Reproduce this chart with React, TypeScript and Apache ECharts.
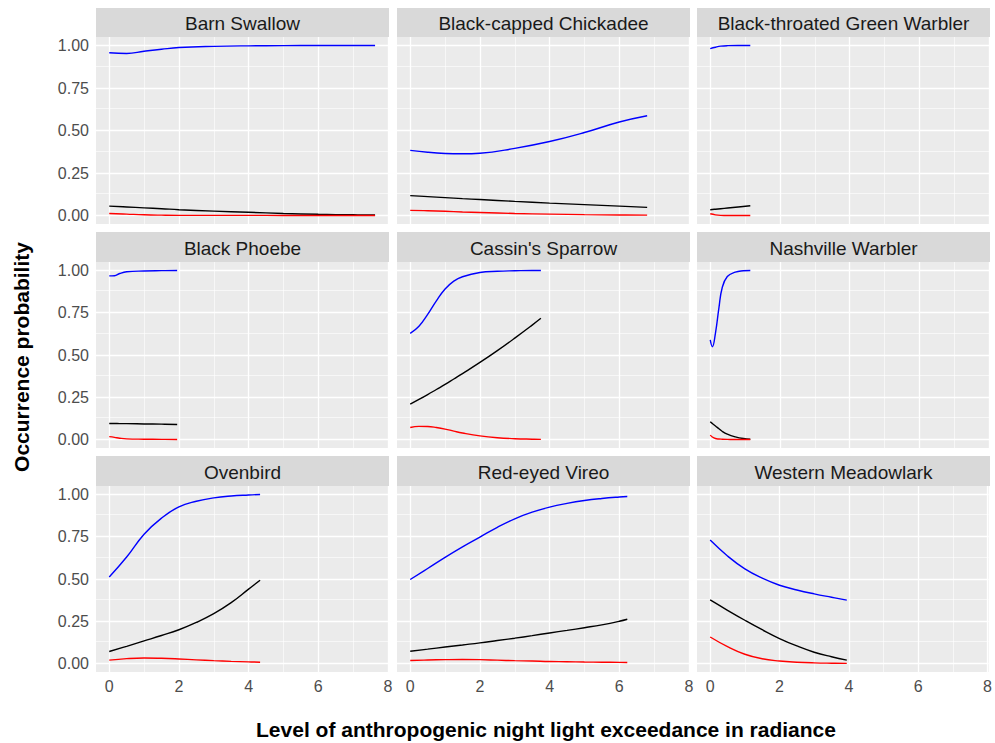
import React, { useEffect, useRef } from "react";
import * as echarts from "echarts";

// ---- facet titles ----
const speciesNames = [
  "Barn Swallow",
  "Black-capped Chickadee",
  "Black-throated Green Warbler",
  "Black Phoebe",
  "Cassin's Sparrow",
  "Nashville Warbler",
  "Ovenbird",
  "Red-eyed Vireo",
  "Western Meadowlark",
];

// ---- ticks ----
const xMajor = [0, 2, 4, 6, 8];
const xMinor = [1, 3, 5, 7];
const yMajor = [0, 0.25, 0.5, 0.75, 1];
const yMinor = [0.125, 0.375, 0.625, 0.875];

// ---- data (x = night light exceedance, blue / black / red curves) ----
const barnSwallowX = [0, 0.5, 1, 1.5, 2, 3, 4, 5, 6, 7, 7.63];
const barnSwallowBlue = [0.957, 0.953, 0.966, 0.978, 0.988, 0.995, 0.998, 0.999, 1.0, 1.0, 1.0];
const barnSwallowBlack = [0.055, 0.05, 0.045, 0.04, 0.034, 0.026, 0.019, 0.012, 0.007, 0.004, 0.003];
const barnSwallowRed = [0.012, 0.008, 0.004, 0.002, 0.001, 0.001, 0.001, 0.0, 0.0, 0.0, 0.0];

const chickadeeX = [0, 0.5, 1, 1.5, 2, 3, 4, 5, 6, 6.8];
const chickadeeBlue = [0.383, 0.372, 0.365, 0.363, 0.366, 0.395, 0.435, 0.488, 0.55, 0.587];
const chickadeeBlack = [0.117, 0.111, 0.105, 0.099, 0.094, 0.083, 0.073, 0.064, 0.055, 0.048];
const chickadeeRed = [0.03, 0.028, 0.025, 0.021, 0.018, 0.012, 0.008, 0.005, 0.003, 0.002];

const btgWarblerX = [0, 0.15, 0.3, 0.5, 0.8, 1.15];
const btgWarblerBlue = [0.982, 0.99, 0.996, 0.999, 1.0, 1.0];
const btgWarblerBlack = [0.034, 0.037, 0.04, 0.044, 0.05, 0.057];
const btgWarblerRed = [0.01, 0.004, 0.001, 0.0, 0.0, 0.0];

const phoebeX = [0, 0.15, 0.3, 0.5, 1, 1.5, 1.95];
const phoebeBlue = [0.968, 0.969, 0.982, 0.992, 0.997, 0.999, 1.0];
const phoebeBlack = [0.095, 0.095, 0.094, 0.094, 0.092, 0.091, 0.089];
const phoebeRed = [0.017, 0.013, 0.008, 0.004, 0.002, 0.001, 0.0];

const cassinX = [0, 0.25, 0.5, 0.75, 1, 1.25, 1.5, 2, 2.5, 3, 3.5, 3.75];
const cassinBlue = [0.628, 0.67, 0.74, 0.82, 0.89, 0.937, 0.963, 0.988, 0.995, 0.998, 1.0, 1.0];
const cassinBlack = [0.209, 0.237, 0.266, 0.296, 0.326, 0.358, 0.39, 0.456, 0.526, 0.6, 0.677, 0.717];
const cassinRed = [0.071, 0.078, 0.077, 0.071, 0.062, 0.05, 0.039, 0.022, 0.011, 0.005, 0.002, 0.001];

const nashvilleX = [0, 0.06, 0.15, 0.25, 0.34, 0.49, 0.72, 0.95, 1.15];
const nashvilleBlue = [0.589, 0.549, 0.63, 0.78, 0.895, 0.964, 0.99, 0.998, 1.0];
const nashvilleBlack = [0.105, 0.095, 0.08, 0.064, 0.049, 0.032, 0.016, 0.006, 0.002];
const nashvilleRed = [0.026, 0.015, 0.006, 0.003, 0.002, 0.001, 0.0, 0.0, 0.0];

const ovenbirdX = [0, 0.5, 1, 1.5, 2, 2.5, 3, 3.5, 4, 4.33];
const ovenbirdBlue = [0.512, 0.63, 0.765, 0.86, 0.927, 0.96, 0.98, 0.991, 0.997, 1.0];
const ovenbirdBlack = [0.071, 0.102, 0.134, 0.166, 0.2, 0.243, 0.295, 0.36, 0.44, 0.493];
const ovenbirdRed = [0.02, 0.029, 0.033, 0.031, 0.027, 0.022, 0.017, 0.013, 0.01, 0.008];

const vireoX = [0, 0.5, 1, 1.5, 2, 2.5, 3, 3.5, 4, 4.5, 5, 5.5, 6, 6.23];
const vireoBlue = [0.497, 0.562, 0.628, 0.69, 0.748, 0.806, 0.856, 0.895, 0.925, 0.947, 0.964, 0.976, 0.985, 0.988];
const vireoBlack = [0.073, 0.085, 0.098, 0.11, 0.122, 0.136, 0.15, 0.165, 0.181, 0.196, 0.212, 0.229, 0.25, 0.262];
const vireoRed = [0.018, 0.021, 0.023, 0.024, 0.023, 0.02, 0.017, 0.015, 0.012, 0.011, 0.009, 0.008, 0.007, 0.006];

const meadowlarkX = [0, 0.5, 1, 1.5, 2, 2.5, 3, 3.5, 3.94];
const meadowlarkBlue = [0.73, 0.636, 0.56, 0.505, 0.463, 0.435, 0.412, 0.392, 0.375];
const meadowlarkBlack = [0.376, 0.315, 0.256, 0.2, 0.148, 0.104, 0.067, 0.04, 0.02];
const meadowlarkRed = [0.157, 0.1, 0.055, 0.028, 0.015, 0.008, 0.004, 0.002, 0.001];

const panelData = [
  [barnSwallowX, barnSwallowBlue, barnSwallowBlack, barnSwallowRed],
  [chickadeeX, chickadeeBlue, chickadeeBlack, chickadeeRed],
  [btgWarblerX, btgWarblerBlue, btgWarblerBlack, btgWarblerRed],
  [phoebeX, phoebeBlue, phoebeBlack, phoebeRed],
  [cassinX, cassinBlue, cassinBlack, cassinRed],
  [nashvilleX, nashvilleBlue, nashvilleBlack, nashvilleRed],
  [ovenbirdX, ovenbirdBlue, ovenbirdBlack, ovenbirdRed],
  [vireoX, vireoBlue, vireoBlack, vireoRed],
  [meadowlarkX, meadowlarkBlue, meadowlarkBlack, meadowlarkRed],
];

const lineColors = ["#0000FF", "#000000", "#FF0000"];

const FONT = '"Liberation Sans", Arial, Helvetica, sans-serif';

export default function App() {
  const ref = useRef<HTMLDivElement>(null);

  useEffect(() => {
    document.body.style.margin = "0";
    const chart = echarts.init(ref.current!, null, { renderer: "svg" });

    const colLeft = [96, 397, 697];
    const panelW = 293;
    const rowTop = [37, 262, 486];
    const rowH = [187, 186, 186];
    const stripTop = [8, 232, 456];

    const grids: any[] = [];
    const xAxes: any[] = [];
    const yAxes: any[] = [];
    const series: any[] = [];
    const graphics: any[] = [];

    speciesNames.forEach((name, i) => {
      const r = Math.floor(i / 3);
      const c = i % 3;
      grids.push({
        left: colLeft[c],
        top: rowTop[r],
        width: panelW,
        height: rowH[r],
        show: true,
        backgroundColor: "#EBEBEB",
        borderWidth: 0,
        containLabel: false,
      });
      xAxes.push({
        type: "value",
        gridIndex: i,
        min: -0.38,
        max: 8.03,
        axisLine: { show: false },
        splitLine: { show: false },
        minorSplitLine: { show: false },
        axisTick: {
          show: r === 2,
          customValues: xMajor,
          length: 4,
          lineStyle: { color: "#333333", width: 1 },
        },
        axisLabel: {
          show: r === 2,
          customValues: xMajor,
          margin: 6,
          color: "#4D4D4D",
          fontSize: 16,
          fontFamily: FONT,
          formatter: (v: number) => String(v),
        },
      });
      yAxes.push({
        type: "value",
        gridIndex: i,
        min: -0.05,
        max: 1.05,
        axisLine: { show: false },
        splitLine: { show: false },
        minorSplitLine: { show: false },
        axisTick: {
          show: c === 0,
          customValues: yMajor,
          length: 4,
          lineStyle: { color: "#333333", width: 1 },
        },
        axisLabel: {
          show: c === 0,
          customValues: yMajor,
          margin: 7,
          color: "#4D4D4D",
          fontSize: 16,
          fontFamily: FONT,
          formatter: (v: number) => v.toFixed(2),
        },
      });

      // grid lines drawn through the axes' scales
      const gridLines: any[] = [];
      xMinor.forEach((v) => gridLines.push({ xAxis: v, lineStyle: { width: 0.6 } }));
      yMinor.forEach((v) => gridLines.push({ yAxis: v, lineStyle: { width: 0.6 } }));
      xMajor.forEach((v) => gridLines.push({ xAxis: v, lineStyle: { width: 1.3 } }));
      yMajor.forEach((v) => gridLines.push({ yAxis: v, lineStyle: { width: 1.3 } }));
      series.push({
        type: "line",
        xAxisIndex: i,
        yAxisIndex: i,
        data: [[0, 0]],
        symbol: "none",
        lineStyle: { width: 0 },
        silent: true,
        z: 1,
        markLine: {
          z: 1,
          silent: true,
          symbol: ["none", "none"],
          label: { show: false },
          emphasis: { disabled: true },
          animation: false,
          lineStyle: { color: "#FFFFFF", type: "solid" },
          data: gridLines,
        },
      });

      const [xs, blue, black, red] = panelData[i];
      [blue, black, red].forEach((ys, k) => {
        series.push({
          type: "line",
          xAxisIndex: i,
          yAxisIndex: i,
          data: xs.map((x, j) => [x, ys[j]]),
          symbol: "none",
          smooth: 0.45,
          lineStyle: { color: lineColors[k], width: 1.4 },
          z: 10,
          silent: true,
        });
      });

      // facet strip
      graphics.push({
        type: "rect",
        shape: { x: colLeft[c], y: stripTop[r], width: panelW, height: rowTop[r] - stripTop[r] },
        style: { fill: "#D9D9D9" },
        silent: true,
      });
      graphics.push({
        type: "text",
        x: colLeft[c] + panelW / 2,
        y: (stripTop[r] + rowTop[r]) / 2 + 1,
        style: {
          text: name,
          fill: "#1A1A1A",
          fontSize: 19,
          fontFamily: FONT,
          align: "center",
          verticalAlign: "middle",
          textAlign: "center",
          textVerticalAlign: "middle",
        },
        silent: true,
      });
    });

    // axis titles
    graphics.push({
      type: "text",
      x: 21,
      y: 357,
      rotation: Math.PI / 2,
      style: {
        text: "Occurrence probability",
        fill: "#000000",
        fontSize: 21,
        fontWeight: "bold",
        fontFamily: FONT,
        align: "center",
        verticalAlign: "middle",
        textAlign: "center",
        textVerticalAlign: "middle",
      },
      silent: true,
    });
    graphics.push({
      type: "text",
      x: 546,
      y: 729,
      style: {
        text: "Level of anthropogenic night light exceedance in radiance",
        fill: "#000000",
        fontSize: 21,
        fontWeight: "bold",
        fontFamily: FONT,
        align: "center",
        verticalAlign: "middle",
        textAlign: "center",
        textVerticalAlign: "middle",
      },
      silent: true,
    });

    chart.setOption({
      animation: false,
      backgroundColor: "#FFFFFF",
      grid: grids,
      xAxis: xAxes,
      yAxis: yAxes,
      series,
      graphic: { elements: graphics },
    });

    return () => {
      chart.dispose();
    };
  }, []);

  return (
    <div
      ref={ref}
      style={{ width: 995, height: 743, position: "absolute", left: 0, top: 0 }}
    />
  );
}
